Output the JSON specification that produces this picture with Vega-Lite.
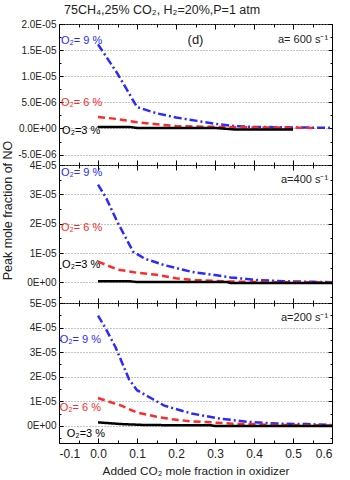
{
  "$schema": "https://vega.github.io/schema/vega-lite/v6.json",
  "padding": {"left": 0, "top": 3, "right": 10, "bottom": 2},
  "spacing": 0,
  "bounds": "flush",
  "config": {
    "font": "Liberation Sans",
    "view": {"stroke": "#000000", "strokeWidth": 1},
    "axis": {"domain": false, "labelColor": "#222222", "labelFont": "Liberation Sans", "gridColor": "#888888", "gridDash": [1, 2], "tickColor": "#000000", "titleFontWeight": "normal", "titleColor": "#222222"}
  },
  "datasets": {
    "lines": [
      {"p": "a600", "s": "9", "x": 0, "y": 1.61e-5},
      {"p": "a600", "s": "9", "x": 0.05, "y": 1.05e-5},
      {"p": "a600", "s": "9", "x": 0.1, "y": 4.1e-6},
      {"p": "a600", "s": "9", "x": 0.15, "y": 2.9e-6},
      {"p": "a600", "s": "9", "x": 0.2, "y": 2.1e-6},
      {"p": "a600", "s": "9", "x": 0.25, "y": 1.5e-6},
      {"p": "a600", "s": "9", "x": 0.3, "y": 9e-7},
      {"p": "a600", "s": "9", "x": 0.35, "y": 4.5e-7},
      {"p": "a600", "s": "9", "x": 0.4, "y": 3e-7},
      {"p": "a600", "s": "9", "x": 0.45, "y": 2.5e-7},
      {"p": "a600", "s": "9", "x": 0.5, "y": 2e-7},
      {"p": "a600", "s": "9", "x": 0.55, "y": 1.5e-7},
      {"p": "a600", "s": "9", "x": 0.6, "y": 1e-7},
      {"p": "a600", "s": "6", "x": 0, "y": 2.2e-6},
      {"p": "a600", "s": "6", "x": 0.05, "y": 1.8e-6},
      {"p": "a600", "s": "6", "x": 0.1, "y": 1.2e-6},
      {"p": "a600", "s": "6", "x": 0.15, "y": 8e-7},
      {"p": "a600", "s": "6", "x": 0.2, "y": 4.5e-7},
      {"p": "a600", "s": "6", "x": 0.3, "y": 3e-7},
      {"p": "a600", "s": "6", "x": 0.4, "y": 2e-7},
      {"p": "a600", "s": "6", "x": 0.5, "y": 1.5e-7},
      {"p": "a600", "s": "6", "x": 0.55, "y": 1e-7},
      {"p": "a600", "s": "3", "x": 0, "y": 3e-7},
      {"p": "a600", "s": "3", "x": 0.08, "y": 3e-7},
      {"p": "a600", "s": "3", "x": 0.1, "y": 1e-7},
      {"p": "a600", "s": "3", "x": 0.3, "y": 1e-7},
      {"p": "a600", "s": "3", "x": 0.35, "y": -2e-7},
      {"p": "a600", "s": "3", "x": 0.5, "y": -2e-7},
      {"p": "a400", "s": "9", "x": 0, "y": 3.33e-5},
      {"p": "a400", "s": "9", "x": 0.02, "y": 2.9e-5},
      {"p": "a400", "s": "9", "x": 0.05, "y": 2.05e-5},
      {"p": "a400", "s": "9", "x": 0.09, "y": 1.05e-5},
      {"p": "a400", "s": "9", "x": 0.12, "y": 8.1e-6},
      {"p": "a400", "s": "9", "x": 0.17, "y": 5.9e-6},
      {"p": "a400", "s": "9", "x": 0.24, "y": 3.6e-6},
      {"p": "a400", "s": "9", "x": 0.3, "y": 2.5e-6},
      {"p": "a400", "s": "9", "x": 0.34, "y": 1.7e-6},
      {"p": "a400", "s": "9", "x": 0.41, "y": 8e-7},
      {"p": "a400", "s": "9", "x": 0.48, "y": 4e-7},
      {"p": "a400", "s": "9", "x": 0.55, "y": 2e-7},
      {"p": "a400", "s": "9", "x": 0.6, "y": 1e-7},
      {"p": "a400", "s": "6", "x": 0, "y": 7.1e-6},
      {"p": "a400", "s": "6", "x": 0.05, "y": 4.4e-6},
      {"p": "a400", "s": "6", "x": 0.1, "y": 3.3e-6},
      {"p": "a400", "s": "6", "x": 0.15, "y": 2.6e-6},
      {"p": "a400", "s": "6", "x": 0.2, "y": 1.4e-6},
      {"p": "a400", "s": "6", "x": 0.25, "y": 8e-7},
      {"p": "a400", "s": "6", "x": 0.34, "y": 3e-7},
      {"p": "a400", "s": "6", "x": 0.45, "y": 1e-7},
      {"p": "a400", "s": "6", "x": 0.6, "y": 0},
      {"p": "a400", "s": "3", "x": 0, "y": 4e-7},
      {"p": "a400", "s": "3", "x": 0.08, "y": 4e-7},
      {"p": "a400", "s": "3", "x": 0.1, "y": 1.5e-7},
      {"p": "a400", "s": "3", "x": 0.33, "y": 1.5e-7},
      {"p": "a400", "s": "3", "x": 0.34, "y": -2e-7},
      {"p": "a400", "s": "3", "x": 0.6, "y": -2e-7},
      {"p": "a200", "s": "9", "x": 0, "y": 4.49e-5},
      {"p": "a200", "s": "9", "x": 0.02, "y": 3.95e-5},
      {"p": "a200", "s": "9", "x": 0.045, "y": 3.2e-5},
      {"p": "a200", "s": "9", "x": 0.08, "y": 1.88e-5},
      {"p": "a200", "s": "9", "x": 0.1, "y": 1.45e-5},
      {"p": "a200", "s": "9", "x": 0.14, "y": 1.09e-5},
      {"p": "a200", "s": "9", "x": 0.17, "y": 8.2e-6},
      {"p": "a200", "s": "9", "x": 0.24, "y": 5e-6},
      {"p": "a200", "s": "9", "x": 0.31, "y": 3e-6},
      {"p": "a200", "s": "9", "x": 0.385, "y": 1.6e-6},
      {"p": "a200", "s": "9", "x": 0.46, "y": 9e-7},
      {"p": "a200", "s": "9", "x": 0.535, "y": 7e-7},
      {"p": "a200", "s": "9", "x": 0.6, "y": 3e-7},
      {"p": "a200", "s": "6", "x": 0, "y": 1.13e-5},
      {"p": "a200", "s": "6", "x": 0.06, "y": 8.2e-6},
      {"p": "a200", "s": "6", "x": 0.1, "y": 5.4e-6},
      {"p": "a200", "s": "6", "x": 0.15, "y": 3.7e-6},
      {"p": "a200", "s": "6", "x": 0.19, "y": 2.7e-6},
      {"p": "a200", "s": "6", "x": 0.24, "y": 1.8e-6},
      {"p": "a200", "s": "6", "x": 0.29, "y": 1.4e-6},
      {"p": "a200", "s": "6", "x": 0.34, "y": 9e-7},
      {"p": "a200", "s": "6", "x": 0.39, "y": 7e-7},
      {"p": "a200", "s": "6", "x": 0.44, "y": 4e-7},
      {"p": "a200", "s": "6", "x": 0.5, "y": 3e-7},
      {"p": "a200", "s": "6", "x": 0.6, "y": 1e-7},
      {"p": "a200", "s": "3", "x": 0, "y": 1.4e-6},
      {"p": "a200", "s": "3", "x": 0.06, "y": 7e-7},
      {"p": "a200", "s": "3", "x": 0.125, "y": 3e-7},
      {"p": "a200", "s": "3", "x": 0.29, "y": 2e-7},
      {"p": "a200", "s": "3", "x": 0.3, "y": -1e-7},
      {"p": "a200", "s": "3", "x": 0.6, "y": -1e-7}
    ],
    "labels": [
      {"p": "a600", "s": "9", "al": "left", "x": -0.095, "y": 1.67e-5, "t": "O₂= 9 %"},
      {"p": "a600", "s": "6", "al": "left", "x": -0.095, "y": 4.9e-6, "t": "O₂= 6 %"},
      {"p": "a600", "s": "3", "al": "left", "x": -0.092, "y": -4e-7, "t": "O₂=3 %"},
      {"p": "a600", "s": "k", "al": "center", "x": 0.25, "y": 1.7e-5, "t": "(d)"},
      {"p": "a600", "s": "k", "al": "right", "x": 0.59, "y": 1.7e-5, "t": "a= 600 s⁻¹"},
      {"p": "a400", "s": "9", "al": "left", "x": -0.095, "y": 3.73e-5, "t": "O₂= 9 %"},
      {"p": "a400", "s": "6", "al": "left", "x": -0.095, "y": 1.86e-5, "t": "O₂= 6 %"},
      {"p": "a400", "s": "3", "al": "left", "x": -0.092, "y": 6.1e-6, "t": "O₂=3 %"},
      {"p": "a400", "s": "k", "al": "right", "x": 0.59, "y": 3.5e-5, "t": "a=400 s⁻¹"},
      {"p": "a200", "s": "9", "al": "left", "x": -0.098, "y": 3.5e-5, "t": "O₂= 9 %"},
      {"p": "a200", "s": "6", "al": "left", "x": -0.098, "y": 7.3e-6, "t": "O₂= 6 %"},
      {"p": "a200", "s": "3", "al": "left", "x": -0.08, "y": -3.3e-6, "t": "O₂=3 %"},
      {"p": "a200", "s": "k", "al": "right", "x": 0.59, "y": 4.37e-5, "t": "a=200 s⁻¹"}
    ]
  },
  "vconcat": [
    {
      "width": 273,
      "height": 141,
      "title": {"text": "75CH₄,25% CO₂, H₂=20%,P=1 atm", "anchor": "start", "frame": "group", "dx": 5, "fontSize": 12.5, "fontWeight": "normal", "offset": 3, "color": "#222222"},
      "resolve": {"axis": {"x": "independent", "y": "independent"}},
      "encoding": {
        "x": {"field": "x", "type": "quantitative", "scale": {"domain": [-0.1, 0.6], "nice": false, "zero": false},
          "axis": {"title": null, "labels": false, "grid": false, "values": [-0.1, -0.05, 0, 0.05, 0.1, 0.15, 0.2, 0.25, 0.3, 0.35, 0.4, 0.45, 0.5, 0.55, 0.6],
            "tickSize": {"condition": {"test": "abs(datum.value*10 - round(datum.value*10)) < 0.01", "value": -5}, "value": -3}}},
        "y": {"field": "y", "type": "quantitative", "scale": {"domain": [-7e-6, 2e-5], "nice": false, "zero": false},
          "axis": {"title": null, "grid": true, "labelFontSize": 10, "labelPadding": 7,
            "values": [-5e-6, -2.5e-6, 0, 2.5e-6, 5e-6, 7.5e-6, 1e-5, 1.25e-5, 1.5e-5, 1.75e-5, 2e-5],
            "labelExpr": "abs(datum.value/5e-6 - round(datum.value/5e-6)) < 0.01 ? replace(replace(replace(format(datum.value,'.1e'),'e-','E-0'),'e+','E+0'),'−','-') : ''",
            "gridOpacity": {"condition": {"test": "abs(datum.value/5e-6 - round(datum.value/5e-6)) < 0.01", "value": 1}, "value": 0},
            "tickSize": {"condition": {"test": "abs(datum.value/5e-6 - round(datum.value/5e-6)) < 0.01", "value": -4}, "value": -2}}},
        "color": {"field": "s", "type": "nominal", "scale": {"domain": ["9", "6", "3", "k"], "range": ["#2a2aff", "#ff2a2a", "#000000", "#222222"]}, "legend": null}
      },
      "layer": [
        {"data": {"name": "lines"}, "transform": [{"filter": "datum.p == 'a600'"}],
          "mark": {"type": "line", "strokeWidth": 2.5},
          "encoding": {"strokeDash": {"field": "s", "type": "nominal", "scale": {"domain": ["9", "6", "3"], "range": [[8, 3, 2, 3], [7, 4], [1, 0]]}, "legend": null}}},
        {"data": {"name": "labels"}, "transform": [{"filter": "datum.p == 'a600' && datum.al == 'left'"}],
          "mark": {"type": "text", "align": "left", "fontSize": 11},
          "encoding": {"text": {"field": "t"},
            "x": {"field": "x", "type": "quantitative", "axis": {"orient": "top", "title": null, "labels": false, "grid": false, "values": [-0.1, -0.05, 0, 0.05, 0.1, 0.15, 0.2, 0.25, 0.3, 0.35, 0.4, 0.45, 0.5, 0.55, 0.6],
              "tickSize": {"condition": {"test": "abs(datum.value*10 - round(datum.value*10)) < 0.01", "value": -5}, "value": -3}}},
            "y": {"field": "y", "type": "quantitative", "axis": {"orient": "right", "title": null, "labels": false, "grid": false,
              "values": [-5e-6, -2.5e-6, 0, 2.5e-6, 5e-6, 7.5e-6, 1e-5, 1.25e-5, 1.5e-5, 1.75e-5, 2e-5],
              "tickSize": {"condition": {"test": "abs(datum.value/5e-6 - round(datum.value/5e-6)) < 0.01", "value": -4}, "value": -2}}}}},
        {"data": {"name": "labels"}, "transform": [{"filter": "datum.p == 'a600' && datum.al == 'right'"}],
          "mark": {"type": "text", "align": "right", "fontSize": 11},
          "encoding": {"text": {"field": "t"}, "x": {"field": "x", "type": "quantitative", "axis": null}, "y": {"field": "y", "type": "quantitative", "axis": null}}},
        {"data": {"name": "labels"}, "transform": [{"filter": "datum.p == 'a600' && datum.al == 'center'"}],
          "mark": {"type": "text", "align": "center", "fontSize": 13},
          "encoding": {"text": {"field": "t"}, "x": {"field": "x", "type": "quantitative", "axis": null}, "y": {"field": "y", "type": "quantitative", "axis": null}}}
      ]
    },
    {
      "width": 273,
      "height": 138,
      "resolve": {"axis": {"x": "independent", "y": "independent"}},
      "encoding": {
        "x": {"field": "x", "type": "quantitative", "scale": {"domain": [-0.1, 0.6], "nice": false, "zero": false},
          "axis": {"title": null, "labels": false, "grid": false, "values": [-0.1, -0.05, 0, 0.05, 0.1, 0.15, 0.2, 0.25, 0.3, 0.35, 0.4, 0.45, 0.5, 0.55, 0.6],
            "tickSize": {"condition": {"test": "abs(datum.value*10 - round(datum.value*10)) < 0.01", "value": -5}, "value": -3}}},
        "y": {"field": "y", "type": "quantitative", "scale": {"domain": [-7e-6, 4e-5], "nice": false, "zero": false},
          "axis": {"title": "Peak mole fraction of NO", "titleFontSize": 12.5, "titleX": -45, "titleY": 45, "grid": true, "labelFontSize": 10, "labelPadding": 7,
            "values": [-5e-6, 0, 5e-6, 1e-5, 1.5e-5, 2e-5, 2.5e-5, 3e-5, 3.5e-5, 4e-5],
            "labelExpr": "abs(datum.value/1e-5 - round(datum.value/1e-5)) < 0.01 ? replace(replace(replace(format(datum.value,'.0e'),'e-','E-0'),'e+','E+0'),'−','-') : ''",
            "gridOpacity": {"condition": {"test": "abs(datum.value/1e-5 - round(datum.value/1e-5)) < 0.01", "value": 1}, "value": 0},
            "tickSize": {"condition": {"test": "abs(datum.value/1e-5 - round(datum.value/1e-5)) < 0.01", "value": -4}, "value": -2}}},
        "color": {"field": "s", "type": "nominal", "scale": {"domain": ["9", "6", "3", "k"], "range": ["#2a2aff", "#ff2a2a", "#000000", "#222222"]}, "legend": null}
      },
      "layer": [
        {"data": {"name": "lines"}, "transform": [{"filter": "datum.p == 'a400'"}],
          "mark": {"type": "line", "strokeWidth": 2.5},
          "encoding": {"strokeDash": {"field": "s", "type": "nominal", "scale": {"domain": ["9", "6", "3"], "range": [[8, 3, 2, 3], [7, 4], [1, 0]]}, "legend": null}}},
        {"data": {"name": "labels"}, "transform": [{"filter": "datum.p == 'a400' && datum.al == 'left'"}],
          "mark": {"type": "text", "align": "left", "fontSize": 11},
          "encoding": {"text": {"field": "t"},
            "x": {"field": "x", "type": "quantitative", "axis": {"orient": "top", "title": null, "labels": false, "grid": false, "values": [-0.1, -0.05, 0, 0.05, 0.1, 0.15, 0.2, 0.25, 0.3, 0.35, 0.4, 0.45, 0.5, 0.55, 0.6],
              "tickSize": {"condition": {"test": "abs(datum.value*10 - round(datum.value*10)) < 0.01", "value": -5}, "value": -3}}},
            "y": {"field": "y", "type": "quantitative", "axis": {"orient": "right", "title": null, "labels": false, "grid": false,
              "values": [-5e-6, 0, 5e-6, 1e-5, 1.5e-5, 2e-5, 2.5e-5, 3e-5, 3.5e-5, 4e-5],
              "tickSize": {"condition": {"test": "abs(datum.value/1e-5 - round(datum.value/1e-5)) < 0.01", "value": -4}, "value": -2}}}}},
        {"data": {"name": "labels"}, "transform": [{"filter": "datum.p == 'a400' && datum.al == 'right'"}],
          "mark": {"type": "text", "align": "right", "fontSize": 11},
          "encoding": {"text": {"field": "t"}, "x": {"field": "x", "type": "quantitative", "axis": null}, "y": {"field": "y", "type": "quantitative", "axis": null}}}
      ]
    },
    {
      "width": 273,
      "height": 140,
      "resolve": {"axis": {"x": "independent", "y": "independent"}},
      "encoding": {
        "x": {"field": "x", "type": "quantitative", "scale": {"domain": [-0.1, 0.6], "nice": false, "zero": false},
          "axis": {"title": "Added  CO₂  mole fraction in oxidizer", "titleFontSize": 11.8, "titlePadding": 6, "labelFontSize": 12, "labelPadding": 10, "grid": false,
            "values": [-0.1, -0.05, 0, 0.05, 0.1, 0.15, 0.2, 0.25, 0.3, 0.35, 0.4, 0.45, 0.5, 0.55, 0.6],
            "labelExpr": "abs(datum.value*10 - round(datum.value*10)) < 0.01 ? replace(format(datum.value,'.1f'),'−','-') : ''",
            "tickSize": {"condition": {"test": "abs(datum.value*10 - round(datum.value*10)) < 0.01", "value": -5}, "value": -3}}},
        "y": {"field": "y", "type": "quantitative", "scale": {"domain": [-7e-6, 5e-5], "nice": false, "zero": false},
          "axis": {"title": null, "grid": true, "labelFontSize": 10, "labelPadding": 7,
            "values": [-5e-6, 0, 5e-6, 1e-5, 1.5e-5, 2e-5, 2.5e-5, 3e-5, 3.5e-5, 4e-5, 4.5e-5, 5e-5],
            "labelExpr": "abs(datum.value/1e-5 - round(datum.value/1e-5)) < 0.01 ? replace(replace(replace(format(datum.value,'.0e'),'e-','E-0'),'e+','E+0'),'−','-') : ''",
            "gridOpacity": {"condition": {"test": "abs(datum.value/1e-5 - round(datum.value/1e-5)) < 0.01", "value": 1}, "value": 0},
            "tickSize": {"condition": {"test": "abs(datum.value/1e-5 - round(datum.value/1e-5)) < 0.01", "value": -4}, "value": -2}}},
        "color": {"field": "s", "type": "nominal", "scale": {"domain": ["9", "6", "3", "k"], "range": ["#2a2aff", "#ff2a2a", "#000000", "#222222"]}, "legend": null}
      },
      "layer": [
        {"data": {"name": "lines"}, "transform": [{"filter": "datum.p == 'a200'"}],
          "mark": {"type": "line", "strokeWidth": 2.5},
          "encoding": {"strokeDash": {"field": "s", "type": "nominal", "scale": {"domain": ["9", "6", "3"], "range": [[8, 3, 2, 3], [7, 4], [1, 0]]}, "legend": null}}},
        {"data": {"name": "labels"}, "transform": [{"filter": "datum.p == 'a200' && datum.al == 'left'"}],
          "mark": {"type": "text", "align": "left", "fontSize": 11},
          "encoding": {"text": {"field": "t"},
            "x": {"field": "x", "type": "quantitative", "axis": {"orient": "top", "title": null, "labels": false, "grid": false, "values": [-0.1, -0.05, 0, 0.05, 0.1, 0.15, 0.2, 0.25, 0.3, 0.35, 0.4, 0.45, 0.5, 0.55, 0.6],
              "tickSize": {"condition": {"test": "abs(datum.value*10 - round(datum.value*10)) < 0.01", "value": -5}, "value": -3}}},
            "y": {"field": "y", "type": "quantitative", "axis": {"orient": "right", "title": null, "labels": false, "grid": false,
              "values": [-5e-6, 0, 5e-6, 1e-5, 1.5e-5, 2e-5, 2.5e-5, 3e-5, 3.5e-5, 4e-5, 4.5e-5, 5e-5],
              "tickSize": {"condition": {"test": "abs(datum.value/1e-5 - round(datum.value/1e-5)) < 0.01", "value": -4}, "value": -2}}}}},
        {"data": {"name": "labels"}, "transform": [{"filter": "datum.p == 'a200' && datum.al == 'right'"}],
          "mark": {"type": "text", "align": "right", "fontSize": 11},
          "encoding": {"text": {"field": "t"}, "x": {"field": "x", "type": "quantitative", "axis": null}, "y": {"field": "y", "type": "quantitative", "axis": null}}}
      ]
    }
  ]
}
